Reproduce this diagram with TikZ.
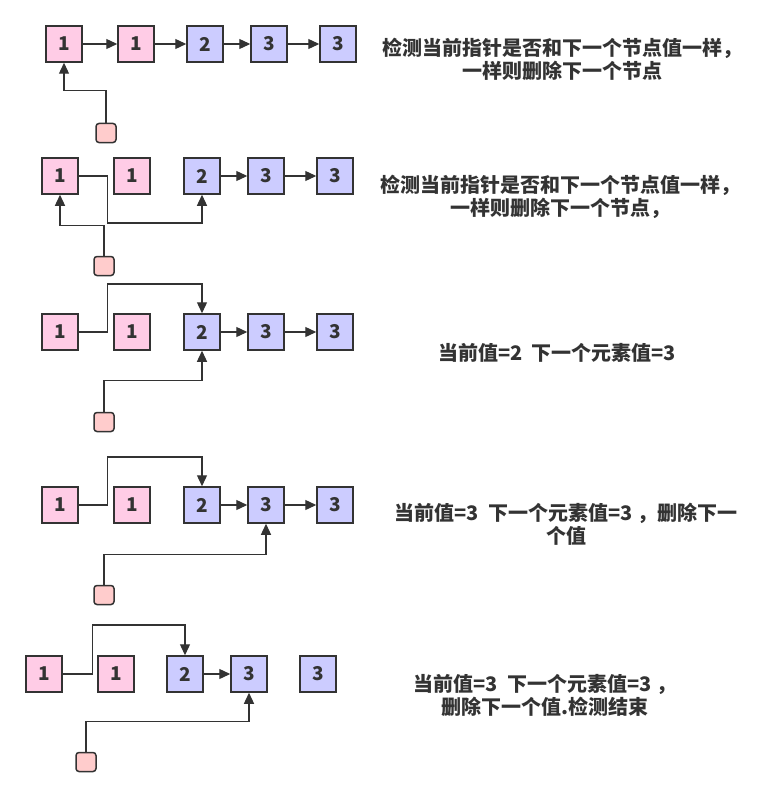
\documentclass[tikz,border=0pt]{standalone}
\usepackage{fontspec}
\setmainfont{Noto Sans CJK SC}
\usetikzlibrary{arrows.meta}
\definecolor{edge}{HTML}{333333}
\definecolor{pinkfill}{HTML}{FFCCE6}
\definecolor{bluefill}{HTML}{CCCCFF}
\definecolor{ptrfill}{HTML}{FFCCCC}
\tikzset{
  cell/.style={rectangle, draw=edge, line width=1.5pt, minimum size=36pt, inner sep=0pt, text=edge, font=\fontsize{19}{22}\selectfont\bfseries},
  pk/.style={cell, fill=pinkfill},
  bl/.style={cell, fill=bluefill},
  ptr/.style={rectangle, rounded corners=3pt, draw=edge, line width=1.5pt, fill=ptrfill, minimum width=20pt, minimum height=19pt, inner sep=0pt},
  conn/.style={draw=edge, line width=1.3pt},
  arr/.style={conn, -{Triangle[length=11pt,width=10pt]}},
  note/.style={align=center, text=edge, font=\fontsize{20}{23}\selectfont\bfseries}
}
\begin{document}
\begin{tikzpicture}[x=1pt,y=-1pt]
\useasboundingbox (0,0) rectangle (773,797);
% row 1
\node[pk] (a1) at (64,44) {1};
\node[pk] (a2) at (136,44) {1};
\node[bl] (a3) at (205,44) {2};
\node[bl] (a4) at (269,44) {3};
\node[bl] (a5) at (338,44) {3};
\node[ptr] (pa) at (106,133) {};
\draw[arr] (a1) -- (a2);
\draw[arr] (a2) -- (a3);
\draw[arr] (a3) -- (a4);
\draw[arr] (a4) -- (a5);
\draw[arr] (pa.north) -- ++(0,-32) -| (a1.south);
\node[note] (ta) at (562,59) {检测当前指针是否和下一个节点值一样，\\一样则删除下一个节点};
% row 2
\node[pk] (b1) at (60,176) {1};
\node[pk] (b2) at (132,176) {1};
\node[bl] (b3) at (202,176) {2};
\node[bl] (b4) at (266,176) {3};
\node[bl] (b5) at (335,176) {3};
\node[ptr] (pb) at (104,266) {};
\draw[arr] (b3) -- (b4);
\draw[arr] (b4) -- (b5);
\draw[arr] (b1.east) -- ++(29,0) -- ++(0,47) -| (b3.south);
\draw[arr] (pb.north) -- ++(0,-30) -| (b1.south);
\node[note] (tb) at (560,197) {检测当前指针是否和下一个节点值一样，\\一样则删除下一个节点，};
% row 3
\node[pk] (c1) at (60,332) {1};
\node[pk] (c2) at (132,332) {1};
\node[bl] (c3) at (202,332) {2};
\node[bl] (c4) at (266,332) {3};
\node[bl] (c5) at (335,332) {3};
\node[ptr] (pc) at (104,422) {};
\draw[arr] (c3) -- (c4);
\draw[arr] (c4) -- (c5);
\draw[arr] (c1.east) -- ++(29,0) -- ++(0,-48) -| (c3.north);
\draw[arr] (pc.north) -- ++(0,-31) -| (c3.south);
\node[note] (tc) at (557,353) {当前值=2\ \ 下一个元素值=3};
% row 4
\node[pk] (d1) at (60,505) {1};
\node[pk] (d2) at (132,505) {1};
\node[bl] (d3) at (202,505) {2};
\node[bl] (d4) at (266,505) {3};
\node[bl] (d5) at (335,505) {3};
\node[ptr] (pd) at (104,595) {};
\draw[arr] (d3) -- (d4);
\draw[arr] (d4) -- (d5);
\draw[arr] (d1.east) -- ++(29,0) -- ++(0,-48) -| (d3.north);
\draw[arr] (pd.north) -- ++(0,-30) -| (d4.south);
\node[note] (td) at (566,524) {当前值=3\ \ 下一个元素值=3 ，删除下一\\个值};
% row 5
\node[pk] (e1) at (44,674) {1};
\node[pk] (e2) at (116,674) {1};
\node[bl] (e3) at (185,674) {2};
\node[bl] (e4) at (249,674) {3};
\node[bl] (e5) at (318,674) {3};
\node[ptr] (pe) at (86,762) {};
\draw[arr] (e3) -- (e4);
\draw[arr] (e1.east) -- ++(30,0) -- ++(0,-49) -| (e3.north);
\draw[arr] (pe.north) -- ++(0,-30) -| (e4.south);
\node[note] (te) at (545,695) {当前值=3\ \ 下一个元素值=3 ，\\删除下一个值.检测结束};
\end{tikzpicture}
\end{document}
